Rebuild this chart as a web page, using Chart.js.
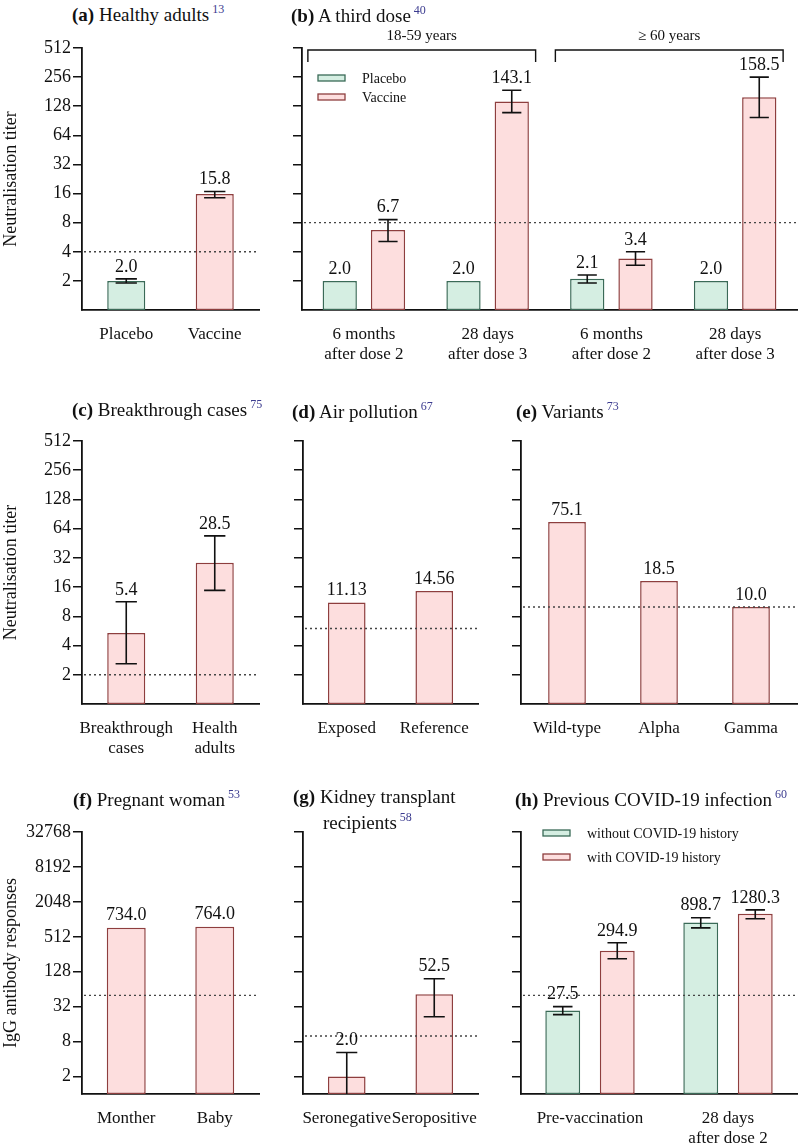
<!DOCTYPE html>
<html>
<head>
<meta charset="utf-8">
<script src="https://cdn.jsdelivr.net/npm/chart.js@4.4.1/dist/chart.umd.min.js"></script>
<style>
  body { margin: 0; background: #fff; }
  #page { position: relative; width: 800px; height: 1147px; font-family: 'Liberation Serif', 'Times New Roman', serif; color: #111; overflow: hidden; }
  canvas { position: absolute; }
  .ttl { position: absolute; font-size: 19px; line-height: 26px; white-space: nowrap; z-index: 2; }
  .ttl sup { font-size: 12px; color: #3b3b8f; vertical-align: 0; position: relative; top: -8px; margin-left: 3px; }
</style>
</head>
<body>
<div id="page">
  <div class="ttl" style="left:72px;top:2px"><b>(a)</b> Healthy adults<sup>13</sup></div>
  <div class="ttl" style="left:291px;top:3px"><b>(b)</b> A third dose<sup>40</sup></div>
  <div class="ttl" style="left:72px;top:397px"><b>(c)</b> Breakthrough cases<sup>75</sup></div>
  <div class="ttl" style="left:292px;top:399px"><b>(d)</b> Air pollution<sup>67</sup></div>
  <div class="ttl" style="left:516px;top:399px"><b>(e)</b> Variants<sup>73</sup></div>
  <div class="ttl" style="left:73px;top:787px"><b>(f)</b> Pregnant woman<sup>53</sup></div>
  <div class="ttl" style="left:293px;top:784px"><b>(g)</b> Kidney transplant<br><span style="padding-left:30px">recipients</span><sup>58</sup></div>
  <div class="ttl" style="left:515px;top:787px"><b>(h)</b> Previous COVID-19 infection<sup>60</sup></div>

  <canvas id="chartA" width="270" height="335" style="left:0;top:30px"></canvas>
  <canvas id="chartB" width="530" height="335" style="left:270px;top:30px"></canvas>
  <canvas id="chartC" width="270" height="340" style="left:0;top:420px"></canvas>
  <canvas id="chartD" width="240" height="340" style="left:270px;top:420px"></canvas>
  <canvas id="chartE" width="290" height="340" style="left:510px;top:420px"></canvas>
  <canvas id="chartF" width="270" height="337" style="left:0;top:810px"></canvas>
  <canvas id="chartG" width="240" height="337" style="left:270px;top:810px"></canvas>
  <canvas id="chartH" width="290" height="337" style="left:510px;top:810px"></canvas>
</div>

<script>
// Tick labels
const titerTicks = [2, 4, 8, 16, 32, 64, 128, 256, 512];
const iggTicks = [2, 8, 32, 128, 512, 2048, 8192, 32768];

// (a) Healthy adults
const aLabels = ['Placebo', 'Vaccine'];
const aValues = [2.0, 15.8];
const aLow = [1.9, 14.5];
const aHigh = [2.1, 16.8];

// (b) A third dose
const bLabels = [['6 months', 'after dose 2'], ['28 days', 'after dose 3'], ['6 months', 'after dose 2'], ['28 days', 'after dose 3']];
const bPlacebo = [2.0, 2.0, 2.1, 2.0];
const bPlaceboLow = [null, null, 1.9, null];
const bPlaceboHigh = [null, null, 2.3, null];
const bVaccine = [6.7, 143.1, 3.4, 158.5];
const bVaccineLow = [5.1, 110, 2.9, 98];
const bVaccineHigh = [8.6, 187, 4.0, 256];
const bGroups = ['18-59 years', '\u2265 60 years'];

// (c) Breakthrough cases
const cLabels = [['Breakthrough', 'cases'], ['Health', 'adults']];
const cValues = [5.4, 28.5];
const cLow = [2.6, 14.8];
const cHigh = [11.3, 54];

// (d) Air pollution
const dLabels = ['Exposed', 'Reference'];
const dValues = [11.13, 14.56];

// (e) Variants
const eLabels = ['Wild-type', 'Alpha', 'Gamma'];
const eValues = [75.1, 18.5, 10.0];

// (f) Pregnant woman
const fLabels = ['Monther', 'Baby'];
const fValues = [734.0, 764.0];

// (g) Kidney transplant recipients
const gLabels = ['Seronegative', 'Seropositive'];
const gValues = [2.0, 52.5];
const gLow = [1, 21.5];
const gHigh = [5.2, 97];

// (h) Previous COVID-19 infection
const hLabels = ['Pre-vaccination', ['28 days', 'after dose 2']];
const hWithout = [27.5, 898.7];
const hWithoutLow = [23.3, 730];
const hWithoutHigh = [32, 1090];
const hWith = [294.9, 1280.3];
const hWithLow = [214, 1045];
const hWithHigh = [404, 1490];

// Thresholds (dotted lines)
const thresholds = { a: 4, b: 8, c: 2, d: 6, e: 10, f: 50, g: 10, h: 50 };

const greenFill = '#d5eee2', greenLine = '#3a6a57';
const pinkFill = '#fddede', pinkLine = '#8e3e3e';
const serif = "'Liberation Serif', 'Times New Roman', serif";

Chart.defaults.font.family = serif;
Chart.defaults.font.size = 18;
Chart.defaults.color = '#111';

// Error bars, value labels, threshold line, legend and brackets
const extrasPlugin = {
    id: 'extras',
    afterDatasetsDraw(chart, args, opts) {
        const { ctx, chartArea } = chart;
        const x = chart.scales.x, y = chart.scales.y;

        // dotted threshold
        if (opts.threshold != null) {
            const ty = y.getPixelForValue(opts.threshold);
            ctx.save();
            ctx.strokeStyle = '#444';
            ctx.lineWidth = 1.4;
            ctx.setLineDash([2, 3]);
            ctx.beginPath();
            ctx.moveTo(chartArea.left + 2, ty);
            ctx.lineTo(chartArea.right, ty);
            ctx.stroke();
            ctx.restore();
        }

        // error bars and value labels
        chart.data.datasets.forEach((ds, di) => {
            const meta = chart.getDatasetMeta(di);
            const lows = (opts.lows || [])[di] || [];
            const highs = (opts.highs || [])[di] || [];
            meta.data.forEach((bar, i) => {
                let top = bar.y;
                const lo = lows[i], hi = highs[i];
                if (hi != null) {
                    const yh = y.getPixelForValue(hi);
                    const yl = Math.min(y.getPixelForValue(lo), chartArea.bottom);
                    const cap = bar.width * 0.28;
                    ctx.save();
                    ctx.strokeStyle = '#111';
                    ctx.lineWidth = 1.6;
                    ctx.beginPath();
                    ctx.moveTo(bar.x, yl); ctx.lineTo(bar.x, yh);
                    ctx.moveTo(bar.x - cap, yh); ctx.lineTo(bar.x + cap, yh);
                    if (yl < chartArea.bottom - 1) {
                        ctx.moveTo(bar.x - cap, yl); ctx.lineTo(bar.x + cap, yl);
                    }
                    ctx.stroke();
                    ctx.restore();
                    top = yh;
                }
                ctx.save();
                ctx.font = '18px ' + serif;
                ctx.fillStyle = '#111';
                ctx.textAlign = 'center';
                ctx.textBaseline = 'bottom';
                ctx.fillText(ds.data[i].toFixed(opts.decimals || 1), bar.x, top - 3);
                ctx.restore();
            });
        });

        // legend inside chart area
        if (opts.legend) {
            const lg = opts.legend;
            ctx.save();
            ctx.font = '14px ' + serif;
            ctx.textBaseline = 'middle';
            ctx.textAlign = 'left';
            chart.data.datasets.forEach((ds, di) => {
                const ly = chartArea.top + lg.top + di * lg.step;
                const lx = chartArea.left + lg.left;
                ctx.fillStyle = ds.backgroundColor;
                ctx.strokeStyle = ds.borderColor;
                ctx.lineWidth = 1.3;
                ctx.fillRect(lx, ly - 3, 27, 6);
                ctx.strokeRect(lx, ly - 3, 27, 6);
                ctx.fillStyle = '#111';
                ctx.fillText(ds.label, lx + lg.textGap, ly + 1);
            });
            ctx.restore();
        }

        // group brackets
        if (opts.brackets) {
            ctx.save();
            ctx.strokeStyle = '#111';
            ctx.lineWidth = 1.4;
            ctx.font = '15px ' + serif;
            ctx.fillStyle = '#111';
            ctx.textAlign = 'center';
            ctx.textBaseline = 'middle';
            opts.brackets.forEach(br => {
                const x1 = x.getPixelForValue(br.from) - 56;
                const x2 = x.getPixelForValue(br.to) + 48;
                const by = chartArea.top + 2;
                ctx.beginPath();
                ctx.moveTo(x1, by + 12); ctx.lineTo(x1, by); ctx.lineTo(x2, by); ctx.lineTo(x2, by + 12);
                ctx.stroke();
                ctx.fillText(br.text, (x1 + x2) / 2, by - 14);
            });
            ctx.restore();
        }
    }
};

function makeBar(id, box, area, labels, datasets, opts) {
    const ticks = opts.ticks;
    return new Chart(document.getElementById(id), {
        type: 'bar',
        data: { labels: labels, datasets: datasets },
        plugins: [extrasPlugin],
        options: {
            responsive: false,
            animation: false,
            layout: {
                padding: { top: area.y0 - box.T, right: box.L + box.W - area.x1, left: 0, bottom: 0 }
            },
            datasets: {
                bar: { categoryPercentage: opts.cat, barPercentage: opts.bar, borderWidth: 1.5, borderSkipped: false }
            },
            plugins: {
                legend: { display: false },
                tooltip: { enabled: false },
                extras: opts.extras
            },
            scales: {
                x: {
                    grid: { display: false },
                    border: { display: true, color: '#111', width: 1.8 },
                    ticks: { padding: 7, font: { size: 17, lineHeight: 1.15 }, maxRotation: 0, autoSkip: false },
                    afterFit: s => { s.height = box.T + box.H - area.y1; }
                },
                y: {
                    type: 'logarithmic',
                    min: 1,
                    max: ticks[ticks.length - 1],
                    afterBuildTicks: s => { s.ticks = ticks.map(v => ({ value: v })); },
                    afterFit: s => { s.width = area.x0 - box.L; },
                    grid: { drawOnChartArea: false, drawTicks: true, tickLength: 9, color: '#111', lineWidth: 1.5 },
                    border: { display: true, color: '#111', width: 1.8 },
                    ticks: {
                        autoSkip: false,
                        padding: 2,
                        font: { size: 18 },
                        callback: v => opts.showTicks ? String(v) : ''
                    },
                    title: {
                        display: !!opts.yTitle,
                        text: opts.yTitle || '',
                        font: { size: 18 },
                        padding: { top: 0, bottom: 0 }
                    }
                }
            }
        }
    });
}

function single(values, fills, lines) {
    return [{ label: '', data: values, backgroundColor: fills, borderColor: lines }];
}

// Row 1
makeBar('chartA', { L: 0, T: 30, W: 270, H: 335 }, { x0: 82, x1: 259, y0: 48, y1: 310 }, aLabels,
    single(aValues, [greenFill, pinkFill], [greenLine, pinkLine]),
    { ticks: titerTicks, showTicks: true, yTitle: 'Neutralisation titer', cat: 0.86, bar: 0.5,
      extras: { threshold: thresholds.a, lows: [aLow], highs: [aHigh] } });

makeBar('chartB', { L: 270, T: 30, W: 530, H: 335 }, { x0: 302, x1: 797, y0: 48, y1: 310 }, bLabels,
    [
        { label: 'Placebo', data: bPlacebo, backgroundColor: greenFill, borderColor: greenLine },
        { label: 'Vaccine', data: bVaccine, backgroundColor: pinkFill, borderColor: pinkLine }
    ],
    { ticks: titerTicks, showTicks: false, cat: 0.78, bar: 0.71,
      extras: {
          threshold: thresholds.b,
          lows: [bPlaceboLow, bVaccineLow], highs: [bPlaceboHigh, bVaccineHigh],
          legend: { left: 16, top: 30, step: 19, textGap: 44 },
          brackets: [{ from: 0, to: 1, text: bGroups[0] }, { from: 2, to: 3, text: bGroups[1] }]
      } });

// Row 2
makeBar('chartC', { L: 0, T: 420, W: 270, H: 340 }, { x0: 82, x1: 259, y0: 441, y1: 704 }, cLabels,
    single(cValues, pinkFill, pinkLine),
    { ticks: titerTicks, showTicks: true, yTitle: 'Neutralisation titer', cat: 0.86, bar: 0.5,
      extras: { threshold: thresholds.c, lows: [cLow], highs: [cHigh] } });

makeBar('chartD', { L: 270, T: 420, W: 240, H: 340 }, { x0: 303, x1: 478, y0: 441, y1: 704 }, dLabels,
    single(dValues, pinkFill, pinkLine),
    { ticks: titerTicks, showTicks: false, cat: 0.86, bar: 0.5,
      extras: { threshold: thresholds.d, decimals: 2 } });

makeBar('chartE', { L: 510, T: 420, W: 290, H: 340 }, { x0: 521, x1: 797, y0: 441, y1: 704 }, eLabels,
    single(eValues, pinkFill, pinkLine),
    { ticks: titerTicks, showTicks: false, cat: 0.82, bar: 0.5,
      extras: { threshold: thresholds.e } });

// Row 3
makeBar('chartF', { L: 0, T: 810, W: 270, H: 337 }, { x0: 82, x1: 259, y0: 832, y1: 1094 }, fLabels,
    single(fValues, pinkFill, pinkLine),
    { ticks: iggTicks, showTicks: true, yTitle: 'IgG antibody responses', cat: 0.88, bar: 0.5,
      extras: { threshold: thresholds.f } });

makeBar('chartG', { L: 270, T: 810, W: 240, H: 337 }, { x0: 303, x1: 478, y0: 832, y1: 1094 }, gLabels,
    single(gValues, pinkFill, pinkLine),
    { ticks: iggTicks, showTicks: false, cat: 0.86, bar: 0.5,
      extras: { threshold: thresholds.g, lows: [gLow], highs: [gHigh] } });

makeBar('chartH', { L: 510, T: 810, W: 290, H: 337 }, { x0: 521, x1: 797, y0: 832, y1: 1094 }, hLabels,
    [
        { label: 'without COVID-19 history', data: hWithout, backgroundColor: greenFill, borderColor: greenLine },
        { label: 'with COVID-19 history', data: hWith, backgroundColor: pinkFill, borderColor: pinkLine }
    ],
    { ticks: iggTicks, showTicks: false, cat: 0.79, bar: 0.64,
      extras: {
          threshold: thresholds.h,
          lows: [hWithoutLow, hWithLow], highs: [hWithoutHigh, hWithHigh],
          legend: { left: 22, top: 1, step: 24, textGap: 44 }
      } });
</script>
</body>
</html>
